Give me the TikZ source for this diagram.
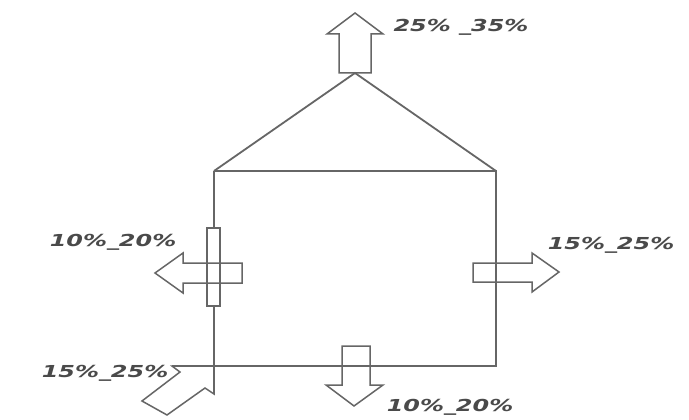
\documentclass[tikz,border=0pt]{standalone}
\usepackage{fontspec}
\newfontfamily\labelfont{DejaVu Sans Bold Oblique}
\definecolor{linegray}{HTML}{666666}
\definecolor{textgray}{HTML}{4A4A4A}
\newcommand\pct[1]{\scalebox{1.45}[1.0]{#1}}
\begin{document}
\begin{tikzpicture}[x=1pt,y=-1pt,
  wall/.style={draw=linegray,line width=1.8pt},
  flow/.style={draw=linegray,line width=1.5pt,line join=miter},
  share/.style={text=textgray,inner sep=0pt,
    font=\labelfont\fontsize{16.5}{16.5}\selectfont}]
\useasboundingbox[fill=white] (0,0) rectangle (689,420);

% house outline
\coordinate (tl) at (214,171);
\coordinate (tr) at (496,171);
\coordinate (br) at (496,366);
\coordinate (bl) at (214,366);
\coordinate (apex) at (355,73);
\coordinate (sill) at (172,366);
\coordinate (foot) at (214,394);
\draw[wall] (tl) -- (apex) -- (tr);
\draw[wall] (tl) -- (tr) -- (br) -- (sill);
\draw[wall] (tl) -- (foot);

% window in the left wall
\node[wall,line width=1.4pt,fill=white,minimum width=13pt,minimum height=78pt,inner sep=0pt]
  (window) at (213.5,267) {};

% roof outflow
\draw[flow] (apex) ++(-16,0) -- ++(0,-39) -- ++(-12,0) -- (355,13) -- (383,34)
  -- ++(-12,0) -- ++(0,39) -- cycle;
% left wall outflow
\draw[flow] (242,263) -- (183,263) -- (183,253) -- (155,273) -- (183,293)
  -- (183,283) -- (242,283) -- cycle;
% right wall outflow
\draw[flow] (473,263) -- (532,263) -- (532,253) -- (559,272) -- (532,292)
  -- (532,282) -- (473,282) -- cycle;
% floor outflow
\draw[flow] (342,346) -- (342,385) -- (326,385) -- (354,406) -- (383,385)
  -- (370,385) -- (370,346) -- cycle;
% inflow at the corner
\draw[flow] (bl) -- (sill) -- (180,372) -- (142,401) -- (167,415) -- (205,388)
  -- (foot) -- cycle;

% shares
\node[share] (top)   at (461,27)  {\pct{25\% \_35\%}};
\node[share] (west)  at (113,242) {\pct{10\%\_20\%}};
\node[share] (east)  at (611,245) {\pct{15\%\_25\%}};
\node[share] (inlet) at (105,373) {\pct{15\%\_25\%}};
\node[share] (floor) at (450,407) {\pct{10\%\_20\%}};
\end{tikzpicture}
\end{document}
